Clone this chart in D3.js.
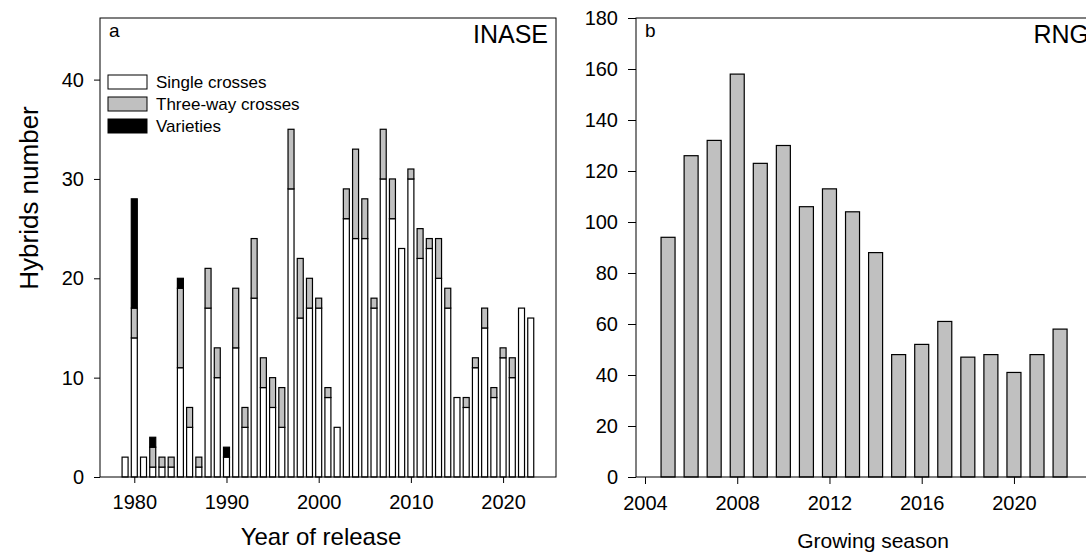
<!DOCTYPE html>
<html><head><meta charset="utf-8">
<script src="https://cdn.jsdelivr.net/npm/d3@7"></script>
<style>
html,body{margin:0;padding:0;background:#fff;}
svg{display:block;font-family:"Liberation Sans",Arial,sans-serif;}
</style></head>
<body>
<svg id="chart" width="1086" height="556"></svg>
<script>
// Panel a: INASE releases by year
const yearsA = [1979,1980,1981,1982,1983,1984,1985,1986,1987,1988,1989,1990,1991,1992,1993,1994,1995,1996,1997,1998,1999,2000,2001,2002,2003,2004,2005,2006,2007,2008,2009,2010,2011,2012,2013,2014,2015,2016,2017,2018,2019,2020,2021,2022,2023];
const singleCrosses = [2,14,2,1,1,1,11,5,1,17,10,2,13,5,18,9,7,5,29,16,17,17,8,5,26,24,24,17,30,26,23,30,22,23,20,17,8,7,11,15,8,12,10,17,16];
const threeWayCrosses = [0,3,0,2,1,1,8,2,1,4,3,0,6,2,6,3,3,4,6,6,3,1,1,0,3,9,4,1,5,4,0,1,3,1,4,2,0,1,1,2,1,1,2,0,0];
const varieties = [0,11,0,1,0,0,1,0,0,0,0,1,0,0,0,0,0,0,0,0,0,0,0,0,0,0,0,0,0,0,0,0,0,0,0,0,0,0,0,0,0,0,0,0,0];
const seriesNames = ["Single crosses","Three-way crosses","Varieties"];
const seriesColors = ["#ffffff","#c0c0c0","#000000"];
const ticksA_x = [1980,1990,2000,2010,2020];
const ticksA_y = [0,10,20,30,40];

// Panel b: RNG by growing season
const seasonsB = [2005,2006,2007,2008,2009,2010,2011,2012,2013,2014,2015,2016,2017,2018,2019,2020,2021,2022];
const hybridsB = [94,126,132,158,123,130,106,113,104,88,48,52,61,47,48,41,48,58];
const ticksB_x = [2004,2008,2012,2016,2020];
const ticksB_y = [0,20,40,60,80,100,120,140,160,180];

(function(){
const svg = d3.select("#chart");
const pTop = 18, pBottom = 477;

// ---------- Panel a ----------
const ax = {l:100, r:556};
const xA = d3.scaleLinear().domain([1976.28, 2025.74]).range([ax.l, ax.r]);
const yA = d3.scaleLinear().domain([0, 46.2]).range([pBottom, pTop]);
const gA = svg.append("g");
const bwA = 6;

const rowsA = yearsA.map((y,i)=>({year:y, vals:[singleCrosses[i], threeWayCrosses[i], varieties[i]]}));
rowsA.forEach(r=>{
  let cum = 0;
  r.vals.forEach((v,k)=>{
    if (v<=0) return;
    gA.append("rect")
      .attr("x", xA(r.year)-bwA/2)
      .attr("y", yA(cum+v))
      .attr("width", bwA)
      .attr("height", yA(cum)-yA(cum+v))
      .attr("fill", seriesColors[k])
      .attr("stroke","#000").attr("stroke-width",1.2);
    cum += v;
  });
});

gA.append("rect").attr("x",ax.l).attr("y",pTop).attr("width",ax.r-ax.l).attr("height",pBottom-pTop)
  .attr("fill","none").attr("stroke","#000").attr("stroke-width",1);

const axA_x = gA.append("g").attr("transform",`translate(0,${pBottom})`)
  .call(d3.axisBottom(xA).tickValues(ticksA_x).tickFormat(d3.format("d")).tickSize(6).tickPadding(12));
const axA_y = gA.append("g").attr("transform",`translate(${ax.l},0)`)
  .call(d3.axisLeft(yA).tickValues(ticksA_y).tickSize(6).tickPadding(10));
[axA_x, axA_y].forEach(a=>{
  a.select(".domain").remove();
  a.selectAll("line").attr("stroke","#000");
  a.selectAll("text").attr("font-size",20).attr("fill","#000").attr("font-family","Liberation Sans, Arial, sans-serif");
});

gA.append("text").attr("x",ax.l+9).attr("y",pTop+19).attr("font-size",19).text("a");
gA.append("text").attr("x",ax.r-8).attr("y",pTop+25).attr("text-anchor","end").attr("font-size",25).text("INASE");

// legend
const leg = gA.append("g");
seriesNames.forEach((n,i)=>{
  const yy = 75 + i*22;
  leg.append("rect").attr("x",108).attr("y",yy).attr("width",39).attr("height",14)
    .attr("fill",seriesColors[i]).attr("stroke","#000").attr("stroke-width",1);
  leg.append("text").attr("x",156).attr("y",yy+13).attr("font-size",17).text(n);
});

svg.append("text").attr("transform","translate(38,198) rotate(-90)")
  .attr("text-anchor","middle").attr("font-size",26).text("Hybrids number");
svg.append("text").attr("x",321).attr("y",545)
  .attr("text-anchor","middle").attr("font-size",24).text("Year of release");

// ---------- Panel b ----------
const bx = {l:636, r:1097};
const xB = d3.scaleLinear().domain([2003.61, 2003.61 + (bx.r-bx.l)/23.06]).range([bx.l, bx.r]);
const yB = d3.scaleLinear().domain([0,180]).range([pBottom, pTop]);
const gB = svg.append("g");
const bwB = 14;
seasonsB.forEach((s,i)=>{
  gB.append("rect")
    .attr("x", xB(s)-bwB/2).attr("y", yB(hybridsB[i]))
    .attr("width", bwB).attr("height", yB(0)-yB(hybridsB[i]))
    .attr("fill","#c0c0c0").attr("stroke","#000").attr("stroke-width",1.2);
});
gB.append("rect").attr("x",bx.l).attr("y",pTop).attr("width",bx.r-bx.l).attr("height",pBottom-pTop)
  .attr("fill","none").attr("stroke","#000").attr("stroke-width",1);
const axB_x = gB.append("g").attr("transform",`translate(0,${pBottom})`)
  .call(d3.axisBottom(xB).tickValues(ticksB_x).tickFormat(d3.format("d")).tickSize(7).tickPadding(12));
const axB_y = gB.append("g").attr("transform",`translate(${bx.l},0)`)
  .call(d3.axisLeft(yB).tickValues(ticksB_y).tickSize(8).tickPadding(10));
[axB_x, axB_y].forEach(a=>{
  a.select(".domain").remove();
  a.selectAll("line").attr("stroke","#000");
  a.selectAll("text").attr("font-size",20).attr("fill","#000").attr("font-family","Liberation Sans, Arial, sans-serif");
});
gB.append("text").attr("x",bx.l+9).attr("y",pTop+19).attr("font-size",19).text("b");
gB.append("text").attr("x",bx.r-8).attr("y",pTop+25).attr("text-anchor","end").attr("font-size",25).text("RNG");
svg.append("text").attr("x",873).attr("y",548)
  .attr("text-anchor","middle").attr("font-size",21).text("Growing season");
})();
</script>
</body></html>
